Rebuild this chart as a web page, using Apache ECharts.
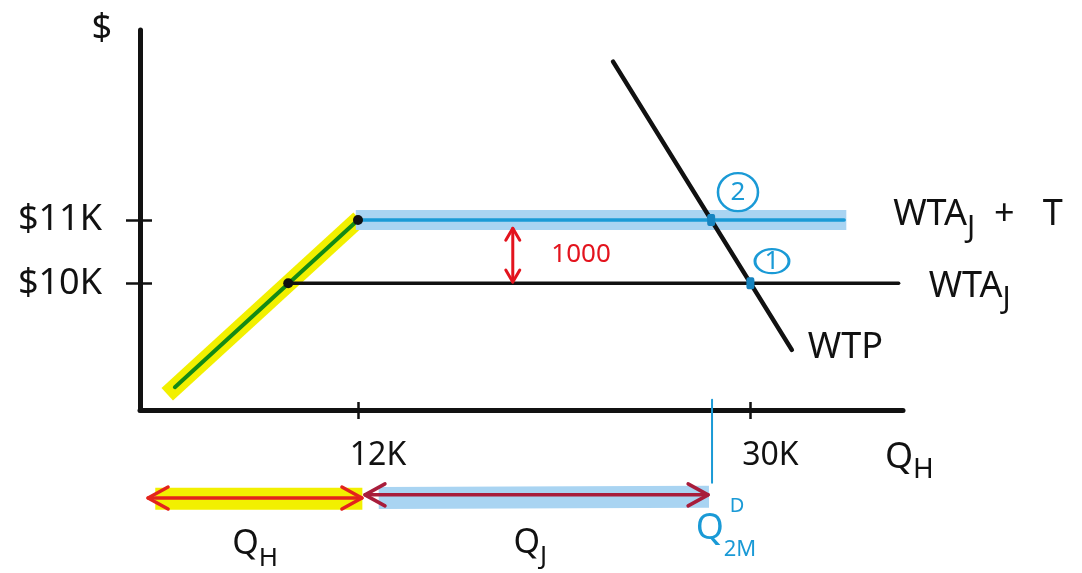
<!DOCTYPE html>
<html>
<head>
<meta charset="utf-8">
<script src="https://cdn.jsdelivr.net/npm/echarts@6/dist/echarts.min.js"></script>
<style>
  html, body { margin: 0; padding: 0; background: #ffffff; }
  #chart { width: 1082px; height: 573px; }
</style>
</head>
<body>
<div id="chart"></div>
<script>
// Quantities in thousands of units, prices in thousands of dollars.
const xTickValues = [12, 30];
const xTickLabels = ['12K', '30K'];
const yTickValues = [10, 11];
const yTickLabels = ['$10K', '$11K'];

const homeSupply = [[3.6, 8.36], [12, 11]];            // rising home-supply segment
const homeHighlight = [[3.25, 8.25], [12.05, 11.02]];
const wtaJ = [[8.8, 10], [36.8, 10]];
const wtaJT = [[12, 11], [34.3, 11]];
const wtaJTHighlight = [[11.9, 11], [34.4, 11]];
const wtp = [[23.7, 13.5], [31.9, 8.95]];
const kinkPoints = [[8.8, 10], [12, 11]];
const equilibria = [[28.2, 11], [30, 10]];
const equilibriumTags = [[29.43, 11.44, '2'], [30.99, 10.35, '1']];
const taxGap = [[19.1, 10.02, 19.1, 10.87]];
const taxGapLabel = [[22.23, 10.45, '1000']];
const qhRange = [[2.37, 6.61, 12.18, 6.61]];
const qjRange = [[12.32, 6.66, 28.06, 6.66]];
const qhBand = [[2.7, 6.6], [12.2, 6.6]];
const qjBand = [[12.95, 6.61], [28.1, 6.63]];
const q2mMarker = [[28.24, 8.16], [28.24, 6.85]];
const rangeLabels = [[7.28, 5.84, 'Q', 'H'], [19.9, 5.87, 'Q', 'J']];
const q2mLabel = [[28.88, 6.1, 'Q', '2M']];
const q2mSup = [[29.39, 6.48, 'D']];

const FONT = 'Noto Sans';
const INK = '#111111';
const BLUE = '#1a9ad6';

function rich(color, big, small, drop) {
  return {
    m: { fontFamily: FONT, fontSize: big, lineHeight: big + 4, verticalAlign: 'top', color },
    s: { fontFamily: FONT, fontSize: small, lineHeight: small, padding: [drop, 0, 0, 0], verticalAlign: 'top', color }
  };
}

function arrowSeries(name, segs, color, width, head, spread) {
  return {
    type: 'custom', name, clip: false, z: 6,
    data: segs,
    renderItem(params, api) {
      const a = api.coord([api.value(0), api.value(1)]);
      const b = api.coord([api.value(2), api.value(3)]);
      const dx = b[0] - a[0], dy = b[1] - a[1];
      const len = Math.hypot(dx, dy);
      const ux = dx / len, uy = dy / len, nx = -uy, ny = ux;
      const wing = (tip, s) => [
        [tip[0] - s * ux * head + nx * spread, tip[1] - s * uy * head + ny * spread],
        tip,
        [tip[0] - s * ux * head - nx * spread, tip[1] - s * uy * head - ny * spread]
      ];
      const style = { stroke: color, lineWidth: width, fill: null, lineCap: 'round', lineJoin: 'round' };
      return {
        type: 'group',
        children: [
          { type: 'line', shape: { x1: a[0], y1: a[1], x2: b[0], y2: b[1] }, style },
          { type: 'polyline', shape: { points: wing(b, 1) }, style },
          { type: 'polyline', shape: { points: wing(a, -1) }, style }
        ]
      };
    }
  };
}

function segment(name, data, color, width, z, extra) {
  return Object.assign({
    type: 'line', name, data, symbol: 'none', clip: false, z, silent: true,
    lineStyle: { color, width, cap: 'round' }
  }, extra || {});
}

function band(name, data, color, width) {
  return segment(name, data, color, width, 1, { lineStyle: { color, width, cap: 'butt' } });
}

function textSeries(name, data, label) {
  return {
    type: 'scatter', name, data, symbolSize: 0, clip: false, z: 8, silent: true,
    itemStyle: { opacity: 1 },
    label: Object.assign({ show: true, position: 'inside' }, label)
  };
}

const chart = echarts.init(document.getElementById('chart'), null, { renderer: 'canvas' });

const xBase = { type: 'value', min: 2, max: 37, splitLine: { show: false } };
const yBase = { type: 'value', min: 8, max: 14, splitLine: { show: false } };

chart.setOption({
  animation: false,
  backgroundColor: '#ffffff',
  grid: { left: 140, top: 30, width: 763, height: 380 },
  xAxis: [
    Object.assign({}, xBase, {
      position: 'bottom',
      name: '{m|Q}{s|H}',
      nameLocation: 'end',
      nameGap: -18,
      nameTextStyle: { align: 'left', verticalAlign: 'top', padding: [30, 0, 0, 0], rich: rich(INK, 36, 28, 16) },
      axisLine: { show: true, lineStyle: { color: INK, width: 5, cap: 'round' } },
      axisTick: { show: true, customValues: xTickValues, length: 9, lineStyle: { color: INK, width: 2.5 } },
      axisLabel: {
        show: true, customValues: xTickValues, margin: 30, padding: [0, 0, 0, 40],
        fontFamily: FONT, fontSize: 32, color: INK,
        formatter: v => xTickLabels[xTickValues.indexOf(v)]
      }
    }),
    Object.assign({}, xBase, {
      position: 'bottom',
      axisLine: { show: false },
      axisTick: { show: true, inside: true, customValues: xTickValues, length: 8, lineStyle: { color: INK, width: 2.5 } },
      axisLabel: { show: false }
    })
  ],
  yAxis: [
    Object.assign({}, yBase, {
      position: 'left',
      name: '$',
      nameLocation: 'end',
      nameGap: 1,
      nameTextStyle: { fontFamily: FONT, fontSize: 36, color: INK, align: 'right', verticalAlign: 'middle', padding: [0, 28, 0, 0] },
      axisLine: { show: true, lineStyle: { color: INK, width: 5, cap: 'round' } },
      axisTick: { show: true, customValues: yTickValues, length: 14, lineStyle: { color: INK, width: 2.5 } },
      axisLabel: {
        show: true, customValues: yTickValues, margin: 38,
        fontFamily: FONT, fontSize: 36, color: INK,
        formatter: v => yTickLabels[yTickValues.indexOf(v)]
      }
    }),
    Object.assign({}, yBase, {
      position: 'left',
      axisLine: { show: false },
      axisTick: { show: true, inside: true, customValues: yTickValues, length: 12, lineStyle: { color: INK, width: 2.5 } },
      axisLabel: { show: false }
    })
  ],
  series: [
    band('home highlight', homeHighlight, '#f2f000', 17),
    band('WTA_J + T highlight', wtaJTHighlight, '#a9d4f2', 20),
    band('Q_H highlight', qhBand, '#f2f000', 22),
    band('Q_J highlight', qjBand, '#a9d4f2', 22),
    segment('home supply', homeSupply, '#138a16', 4, 3),
    segment('WTA_J', wtaJ, INK, 3.5, 3, {
      endLabel: { show: true, distance: 30, offset: [0, 5], formatter: '{m|WTA}{s|J}', rich: rich(INK, 36, 30, 16) }
    }),
    segment('WTA_J + T', wtaJT, BLUE, 3.5, 3, {
      endLabel: { show: true, distance: 49, offset: [0, -3], formatter: '{m|WTA}{s|J}{m|  +   T}', rich: rich(INK, 36, 30, 16) }
    }),
    segment('WTP', wtp, INK, 4.5, 4, {
      endLabel: { show: true, distance: 16, offset: [0, -2], formatter: 'WTP', fontFamily: FONT, fontSize: 36, color: INK }
    }),
    segment('Q2M marker', q2mMarker, BLUE, 2, 4),
    {
      type: 'scatter', name: 'kinks', data: kinkPoints, symbolSize: 10, z: 7, silent: true,
      itemStyle: { color: INK, opacity: 1 }
    },
    {
      type: 'scatter', name: 'equilibria', data: equilibria, symbol: 'roundRect', symbolSize: [8, 12], z: 7, silent: true,
      itemStyle: { color: '#1684c0', opacity: 1 }
    },
    {
      type: 'scatter', name: 'equilibrium tags', data: equilibriumTags, z: 7, silent: true, clip: false,
      symbol: 'circle',
      symbolSize: (v) => v[2] === '2' ? [40, 38] : [34, 24],
      itemStyle: { color: 'rgba(0,0,0,0)', borderColor: BLUE, borderWidth: 2.5, opacity: 1 },
      label: {
        show: true, position: 'inside', color: BLUE, fontFamily: FONT,
        formatter: p => p.value[2],
        fontSize: 26
      }
    },
    arrowSeries('tax gap', taxGap, '#e3141e', 3, 12, 7),
    arrowSeries('Q_H range', qhRange, '#e3231c', 3.5, 20, 11),
    arrowSeries('Q_J range', qjRange, '#a81d3b', 3.5, 20, 11),
    textSeries('tax label', taxGapLabel, {
      formatter: p => p.value[2], fontFamily: FONT, fontSize: 26, color: '#e3141e'
    }),
    textSeries('range labels', rangeLabels, {
      formatter: p => '{m|' + p.value[2] + '}{s|' + p.value[3] + '}', rich: rich(INK, 34, 26, 18)
    }),
    textSeries('Q2M label', q2mLabel, {
      formatter: p => '{m|' + p.value[2] + '}{s|' + p.value[3] + '}', rich: rich(BLUE, 36, 22, 28)
    }),
    textSeries('Q2M superscript', q2mSup, {
      formatter: p => p.value[2], fontFamily: FONT, fontSize: 20, color: BLUE
    })
  ]
});
</script>
</body>
</html>
